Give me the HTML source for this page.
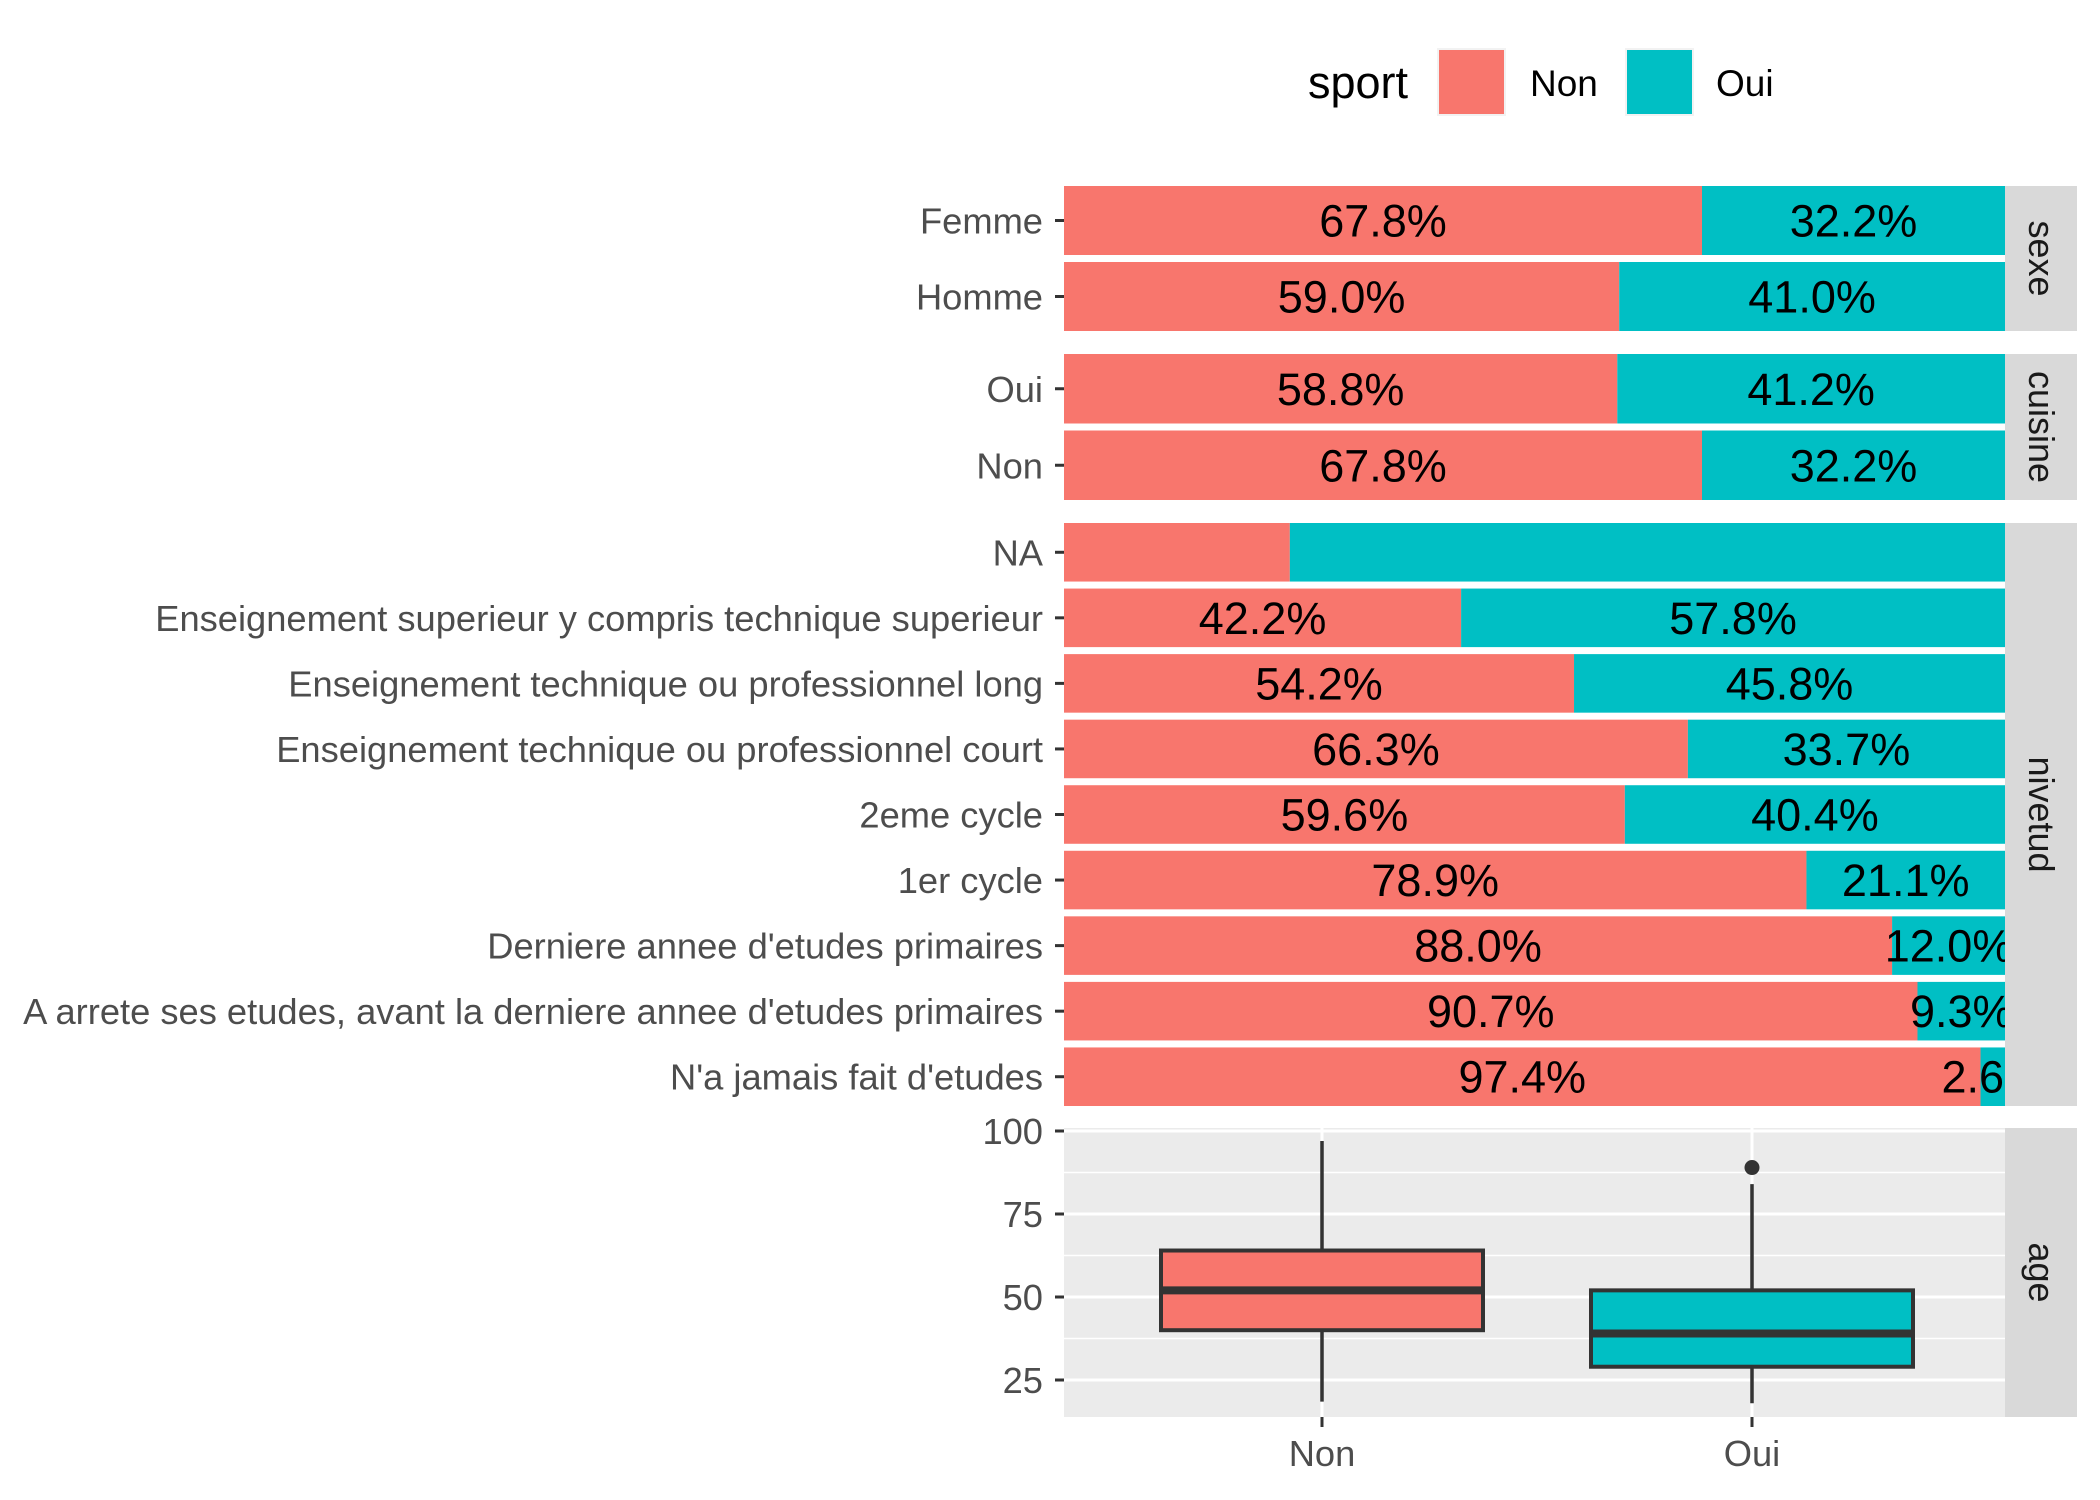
<!DOCTYPE html>
<html><head><meta charset="utf-8">
<style>
html,body{margin:0;padding:0;background:#fff;}
svg{display:block;font-family:"Liberation Sans",Arial,sans-serif;}
</style></head>
<body>
<svg id="chart" width="2100" height="1500" viewBox="0 0 2100 1500" xmlns="http://www.w3.org/2000/svg">
  <g>
    <text x="1308" y="98" font-size="45" fill="#000">sport</text>
    <rect x="1438" y="49" width="67" height="66" fill="#F8766D" stroke="#f2f2f2" stroke-width="2"/>
    <text x="1530" y="96" font-size="37" fill="#000">Non</text>
    <rect x="1626" y="49" width="67" height="66" fill="#00BFC4" stroke="#f2f2f2" stroke-width="2"/>
    <text x="1716" y="96" font-size="37" fill="#000">Oui</text>
  </g>
  <defs><clipPath id="pclip"><rect x="1064" y="0" width="941" height="1500"/></clipPath></defs>
  <g id="bars"></g>
  <g id="age"></g>
</svg>
<script>
// ---- bar panel data ----
const sexeCats = ["Femme","Homme"];
const sexeNon = [67.8, 59.0];
const cuisineCats = ["Oui","Non"];
const cuisineNon = [58.8, 67.8];
const nivCats = ["NA","Enseignement superieur y compris technique superieur","Enseignement technique ou professionnel long","Enseignement technique ou professionnel court","2eme cycle","1er cycle","Derniere annee d'etudes primaires","A arrete ses etudes, avant la derniere annee d'etudes primaires","N'a jamais fait d'etudes"];
const nivNon = [24.0, 42.2, 54.2, 66.3, 59.6, 78.9, 88.0, 90.7, 97.4];
const nivShowLabels = [false,true,true,true,true,true,true,true,true];
// ---- age boxplot data ----
const ageGroups = ["Non","Oui"];
const ageLow = [18.5, 18];
const ageQ1 = [40, 29];
const ageMed = [52, 39];
const ageQ3 = [64, 52];
const ageHigh = [97, 84];
const ageOutliers = [[], [89]];
const ageTicks = [25, 50, 75, 100];

const NS = "http://www.w3.org/2000/svg";
function mk(tag, attrs, parent, txt){
  const e = document.createElementNS(NS, tag);
  for (const k in attrs) e.setAttribute(k, attrs[k]);
  if (txt !== undefined) e.textContent = txt;
  parent.appendChild(e);
  return e;
}
const PX0 = 1064, PX1 = 2005, SX1 = 2077;
const LF = 36.3;
const xPct = p => PX0 + (PX1 - PX0) * p / 100;
const barsG = document.getElementById('bars');

function panel(name, cats, non, top, bottom, show){
  const g = mk('g', {}, barsG);
  
  
  const gap = 7, n = cats.length;
  const bh = (bottom - top - (n - 1) * gap) / n;
  const strip = mk('rect', {x: PX1, y: top, width: SX1 - PX1, height: bottom - top, fill: '#d9d9d9'}, g);
  
  
  const st = mk('text', {x: 0, y: 0, 'font-size': 36, fill: '#1a1a1a', 'text-anchor': 'middle',
    transform: `translate(${(PX1 + SX1) / 2 - 12},${(top + bottom) / 2}) rotate(90)`}, g, name);
  
  
  cats.forEach((c, i) => {
    const y = top + i * (bh + gap), cy = y + bh / 2;
    const r1 = mk('rect', {x: PX0, y: y, width: xPct(non[i]) - PX0, height: bh, fill: '#F8766D'}, g);
    
    
    const r2 = mk('rect', {x: xPct(non[i]), y: y, width: PX1 - xPct(non[i]), height: bh, fill: '#00BFC4'}, g);
    
    
    const tk = mk('line', {x1: PX0 - 9, x2: PX0, y1: cy, y2: cy, stroke: '#333', 'stroke-width': 3}, g);
    
    
    const lb = mk('text', {x: PX0 - 21, y: cy + 13, 'font-size': LF, fill: '#4d4d4d', 'text-anchor': 'end'}, g, c);
    
    
  });
  const lg = mk('g', {'clip-path': 'url(#pclip)'}, g);
  
  
  cats.forEach((c, i) => {
    const y = top + i * (bh + gap), cy = y + bh / 2;
    if (show[i]) {
      const t1 = mk('text', {x: (PX0 + xPct(non[i])) / 2, y: cy + 16, 'font-size': 45, fill: '#000', 'text-anchor': 'middle'}, lg, non[i].toFixed(1) + '%');
      
      
      const oui = 100 - non[i];
      const t2 = mk('text', {x: (xPct(non[i]) + PX1) / 2, y: cy + 16, 'font-size': 45, fill: '#000', 'text-anchor': 'middle'}, lg, oui.toFixed(1) + '%');
      
      
    }
  });
}
panel('sexe', sexeCats, sexeNon, 186, 331, [true, true]);
panel('cuisine', cuisineCats, cuisineNon, 354, 500, [true, true]);
panel('nivetud', nivCats, nivNon, 523, 1106, nivShowLabels);

// ---- age panel ----
const ag = document.getElementById('age');
const AT = 1128, AB = 1417;
const yAge = v => 1131 + (100 - v) * (1380 - 1131) / 75;
const xGroup = i => 1322 + i * (1752 - 1322);
const bw = 322;
let e = mk('rect', {x: PX0, y: AT, width: PX1 - PX0, height: AB - AT, fill: '#ebebeb'}, ag);


e = mk('rect', {x: PX1, y: AT, width: SX1 - PX1, height: AB - AT, fill: '#d9d9d9'}, ag);


e = mk('text', {x: 0, y: 0, 'font-size': 36, fill: '#1a1a1a', 'text-anchor': 'middle', transform: `translate(${(PX1 + SX1) / 2 - 12},${(AT + AB) / 2}) rotate(90)`}, ag, 'age');


for (let k = 0; k < ageTicks.length; k++) {
  const mv = ageTicks[k] - 12.5;
  if (yAge(mv) < AB) {
    e = mk('line', {x1: PX0, x2: PX1, y1: yAge(mv), y2: yAge(mv), stroke: '#fff', 'stroke-width': 1.5}, ag);
    
    
  }
}
ageTicks.forEach(t => {
  const y = yAge(t);
  e = mk('line', {x1: PX0, x2: PX1, y1: y, y2: y, stroke: '#fff', 'stroke-width': 3}, ag);
  
  
  e = mk('line', {x1: PX0 - 9, x2: PX0, y1: y, y2: y, stroke: '#333', 'stroke-width': 3}, ag);
  
  
  e = mk('text', {x: PX0 - 21, y: y + 13, 'font-size': LF, fill: '#4d4d4d', 'text-anchor': 'end'}, ag, String(t));
  
  
});
ageGroups.forEach((gname, i) => {
  const cx = xGroup(i);
  e = mk('line', {x1: cx, x2: cx, y1: AT, y2: AB, stroke: '#fff', 'stroke-width': 3}, ag);
  
  
});
ageGroups.forEach((gname, i) => {
  const cx = xGroup(i), fill = i === 0 ? '#F8766D' : '#00BFC4';
  const g = mk('g', {}, ag);
  
  
  e = mk('line', {x1: cx, x2: cx, y1: yAge(ageHigh[i]), y2: yAge(ageQ3[i]), stroke: '#333', 'stroke-width': 3.5}, g);
  
  
  e = mk('line', {x1: cx, x2: cx, y1: yAge(ageQ1[i]), y2: yAge(ageLow[i]), stroke: '#333', 'stroke-width': 3.5}, g);
  
  
  e = mk('rect', {x: cx - bw / 2, y: yAge(ageQ3[i]), width: bw, height: yAge(ageQ1[i]) - yAge(ageQ3[i]), fill: fill, stroke: '#333', 'stroke-width': 4}, g);
  
  
  e = mk('line', {x1: cx - bw / 2, x2: cx + bw / 2, y1: yAge(ageMed[i]), y2: yAge(ageMed[i]), stroke: '#333', 'stroke-width': 8}, g);
  
  
  ageOutliers[i].forEach(o => {
    e = mk('circle', {cx: cx, cy: yAge(o), r: 7.5, fill: '#333'}, g);
    
    
  });
  e = mk('line', {x1: cx, x2: cx, y1: AB, y2: AB + 10, stroke: '#333', 'stroke-width': 3}, ag);
  
  
  e = mk('text', {x: cx, y: 1466, 'font-size': LF, fill: '#4d4d4d', 'text-anchor': 'middle'}, ag, gname);
  
  
});
</script>
</body></html>
